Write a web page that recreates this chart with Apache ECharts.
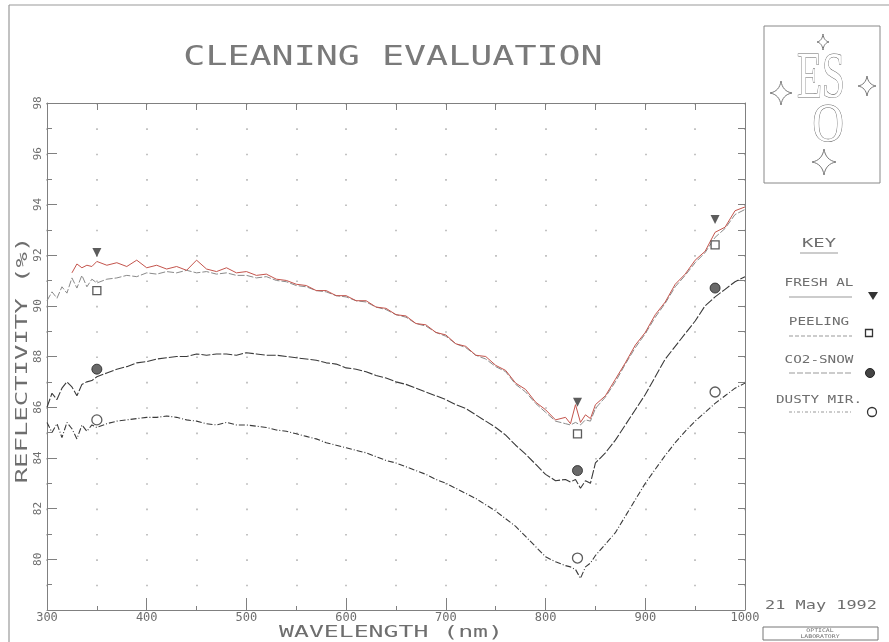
<!DOCTYPE html>
<html><head><meta charset="utf-8">
<script src="https://cdn.jsdelivr.net/npm/echarts/dist/echarts.min.js"></script>
<style>html,body{margin:0;padding:0;background:#fff}#c{width:889px;height:642px}</style>
</head><body><div id="c"></div><script>
// ---- data ----
var wl = [300,305,310,315,320,325,330,335,340,345,350, 360,370,380,390,400,410,420,430,440,450,
  460,470,480,490,500,510,520,530,540,550, 560,570,580,590,600,610,620,630,640,650,
  660,670,680,690,700,710,720,730,740,750, 760,770,780,790,800,810,820,
  825,830,835,840,845,850, 860,870,880,890,900,910,920,930,940,950,960,970,980,990,1000];
var freshAl = [null,null,null,null,null,91.3,91.65,91.5,91.6,91.55,91.75,
  91.6,91.7,91.55,91.8,91.5,91.6,91.45,91.55,91.4,91.8,
  91.45,91.35,91.5,91.3,91.35,91.2,91.25,91.05,91.0,90.85,
  90.8,90.6,90.6,90.4,90.4,90.2,90.2,89.95,89.9,89.65,
  89.6,89.3,89.25,88.95,88.85,88.5,88.4,88.05,88.0,87.65,
  87.45,86.95,86.7,86.2,85.9,85.5,85.6,
  85.35,86.1,85.4,85.7,85.55,86.1,
  86.45,87.1,87.75,88.45,88.95,89.65,90.15,90.85,91.25,91.8,92.15,92.9,93.1,93.75,93.9];
var peeling = [90.2,90.55,90.3,90.75,90.5,91.1,90.7,91.2,90.75,91.05,90.9,
  91.05,91.1,91.2,91.15,91.3,91.25,91.35,91.3,91.4,91.3,
  91.35,91.25,91.3,91.2,91.2,91.1,91.15,91.0,90.95,90.8,
  90.75,90.6,90.55,90.4,90.35,90.2,90.15,89.95,89.85,89.65,
  89.55,89.3,89.2,88.95,88.8,88.5,88.35,88.05,87.9,87.6,
  87.4,86.9,86.6,86.15,85.8,85.45,85.35,
  85.3,85.4,85.3,85.5,85.45,85.95,
  86.4,87.0,87.7,88.35,88.9,89.55,90.1,90.75,91.2,91.7,92.1,92.7,93.05,93.6,93.8];
var co2Snow = [86.0,86.55,86.3,86.75,87.0,86.8,86.45,86.9,87.0,87.05,87.2,
  87.35,87.5,87.6,87.75,87.8,87.9,87.95,88.0,88.0,88.1,
  88.05,88.1,88.1,88.05,88.15,88.1,88.05,88.05,88.0,87.95,
  87.9,87.85,87.75,87.7,87.55,87.5,87.4,87.25,87.15,87.0,
  86.9,86.75,86.6,86.45,86.3,86.1,85.95,85.7,85.45,85.2,
  84.9,84.5,84.15,83.75,83.35,83.1,83.15,
  83.05,83.15,82.8,83.1,83.0,83.8,
  84.2,84.7,85.3,85.9,86.5,87.2,87.9,88.4,88.9,89.4,90.0,90.35,90.65,90.95,91.15];
var dustyMir = [85.4,85.0,85.35,84.8,85.4,85.15,84.75,85.3,85.05,85.3,85.2,
  85.35,85.45,85.5,85.55,85.6,85.6,85.65,85.6,85.5,85.45,
  85.35,85.3,85.4,85.3,85.3,85.25,85.2,85.1,85.05,84.95,
  84.85,84.75,84.6,84.5,84.4,84.3,84.2,84.05,83.9,83.8,
  83.65,83.5,83.35,83.15,83.0,82.8,82.6,82.4,82.15,81.9,
  81.6,81.3,80.9,80.5,80.1,79.9,79.75,
  79.7,79.6,79.25,79.7,79.85,80.15,
  80.6,81.05,81.7,82.35,83.0,83.55,84.1,84.6,85.05,85.45,85.8,86.15,86.45,86.75,86.95];
var markerWl = [350, 832, 970];
var freshMarks = [92.1, 86.2, 93.4];
var peelMarks = [90.6, 84.95, 92.4];
var co2Marks = [87.5, 83.5, 90.7];
var dustyMarks = [85.5, 80.05, 86.6];
var seriesNames = ['FRESH AL', 'PEELING', 'CO2-SNOW', 'DUSTY MIR.'];

// ---- helpers ----
function pairs(xs, ys){ return xs.map(function(x,i){ return [x, ys[i]]; }); }
var FONT = '"DejaVu Sans Mono",monospace';
var TXT = '#6e6e6e';
var AX = '#808080';
function label(text, x, y, size, sx, extra){
  var o = {type:'text', x:x, y:y, scaleX:sx||1, scaleY:1, silent:true,
    style:{text:text, x:0, y:0, fill:TXT, font:size+'px '+FONT, textAlign:'center', textVerticalAlign:'middle', align:'center', verticalAlign:'middle'}};
  if (extra) for (var k in extra) o[k] = extra[k];
  return o;
}
// 4-point star outline (decoration), sampled quadratic curves
function star(cx, cy, rw, rh){
  var k = 0.14, pts = [];
  var corners = [[0,-rh],[rw,0],[0,rh],[-rw,0]];
  for (var c=0;c<4;c++){
    var a = corners[c], b = corners[(c+1)%4];
    var ctl = [(a[0]+b[0])*k, (a[1]+b[1])*k];
    for (var t=0;t<1;t+=0.125){
      var u = 1-t;
      pts.push([cx + u*u*a[0] + 2*u*t*ctl[0] + t*t*b[0], cy + u*u*a[1] + 2*u*t*ctl[1] + t*t*b[1]]);
    }
  }
  return {type:'polygon', silent:true, shape:{points:pts}, style:{fill:'#fff', stroke:'#777', lineWidth:1}};
}
function hline(x1,x2,y,dash,color){
  return {type:'line', silent:true, shape:{x1:x1,y1:y,x2:x2,y2:y}, style:{stroke:color||'#888', lineWidth:1, lineDash:dash||null}};
}

var lineStyles = [
  {color:'#c4544c', width:1, type:'solid'},
  {color:'#8a8a8a', width:1, type:[7,2]},
  {color:'#3a3a3a', width:1.1, type:[9,2]},
  {color:'#3a3a3a', width:1.1, type:[6,2,1,2]}
];
var values = [freshAl, peeling, co2Snow, dustyMir];
var marks = [freshMarks, peelMarks, co2Marks, dustyMarks];
var markSym = [
  {symbol:'triangle', symbolRotate:180, symbolSize:9, itemStyle:{color:'#333'}},
  {symbol:'rect', symbolSize:8, itemStyle:{color:'#fff', borderColor:'#333', borderWidth:1.3}},
  {symbol:'circle', symbolSize:10, itemStyle:{color:'#444', borderColor:'#222', borderWidth:1}},
  {symbol:'circle', symbolSize:10, itemStyle:{color:'#fff', borderColor:'#333', borderWidth:1.3}}
];

var series = [];
[1,3,2,0].forEach(function(i){
  series.push({name:seriesNames[i], type:'line', data:pairs(wl, values[i]), showSymbol:false, symbol:'none',
    connectNulls:false, lineStyle:lineStyles[i], z:3+(i===0?1:0), animation:false});
});
[0,1,2,3].forEach(function(i){
  var s = {name:seriesNames[i]+' marks', type:'scatter', data:pairs(markerWl, marks[i]), z:6, animation:false};
  for (var k in markSym[i]) s[k] = markSym[i][k];
  series.push(s);
});

var legendY = [283, 322, 360, 400];
var legendLineY = [297, 336, 373, 412];
var g = [];
g.push({type:'line', silent:true, shape:{x1:9,y1:5,x2:889,y2:5}, style:{stroke:'#999', lineWidth:1.2}});
g.push({type:'line', silent:true, shape:{x1:9,y1:5,x2:9,y2:642}, style:{stroke:'#999', lineWidth:1.2}});
g.push(label('CLEANING EVALUATION', 393, 58, 26, 1.41, {style:{text:'CLEANING EVALUATION', x:0, y:0, fill:'#7a7a7a', font:'26px '+FONT, textAlign:'center', textVerticalAlign:'middle', align:'center', verticalAlign:'middle'}}));
g.push(label('WAVELENGTH (nm)', 391, 633, 16, 1.55));
g.push(label('REFLECTIVITY (%)', 23, 360, 16, 1.6, {rotation:Math.PI/2}));
g.push({type:'rect', silent:true, shape:{x:764,y:26,width:116,height:157}, style:{fill:'none', stroke:'#888', lineWidth:1}});
g.push({type:'text', silent:true, x:821, y:80, scaleX:0.62, scaleY:1, style:{text:'ES', x:0, y:0, fill:'#fff', stroke:'#666', lineWidth:1.1, font:'66px "Liberation Serif","DejaVu Serif",serif', textAlign:'center', textVerticalAlign:'middle', align:'center', verticalAlign:'middle'}});
g.push({type:'text', silent:true, x:828, y:127, scaleX:0.8, scaleY:1, style:{text:'O', x:0, y:0, fill:'#fff', stroke:'#666', lineWidth:1.1, font:'54px "Liberation Serif","DejaVu Serif",serif', textAlign:'center', textVerticalAlign:'middle', align:'center', verticalAlign:'middle'}});
g.push(star(823, 42, 6, 8));
g.push(star(781, 93, 11, 12));
g.push(star(867, 86, 9, 10));
g.push(star(824, 162, 12, 13));
g.push(label('KEY', 819, 244, 13, 1.45));
g.push(hline(800, 838, 253, null, '#999'));
var legDash = [null, [4,2], [6,2], [3,2,1,2]];
for (var i=0;i<4;i++){
  g.push(label(seriesNames[i], 819, legendY[i], 11, 1.3));
  g.push(hline(789, 852, legendLineY[i], legDash[i], '#999'));
}
g.push({type:'polygon', silent:true, shape:{points:[[868,292],[878,292],[873,300]]}, style:{fill:'#333'}});
g.push({type:'rect', silent:true, shape:{x:865.5,y:329.5,width:7,height:7}, style:{fill:'#fff', stroke:'#333', lineWidth:1.3}});
g.push({type:'circle', silent:true, shape:{cx:870,cy:373,r:4.5}, style:{fill:'#444', stroke:'#222', lineWidth:1}});
g.push({type:'circle', silent:true, shape:{cx:872,cy:412,r:4.5}, style:{fill:'#fff', stroke:'#333', lineWidth:1.3}});
g.push(label('21 May 1992', 821, 606, 13, 1.3));
g.push({type:'rect', silent:true, shape:{x:763,y:627,width:115,height:13}, style:{fill:'none', stroke:'#777', lineWidth:1}});
g.push(label('OPTICAL', 820, 631, 5, 1.3));
g.push(label('LABORATORY', 820, 636.5, 5, 1.3));

var dots = {show:true, lineStyle:{color:'#b5b5b5', width:1.6, type:[1.6, 23.75]}};
var option = {
  backgroundColor:'#fff',
  animation:false,
  grid:{left:47, right:144, top:103, bottom:32, containLabel:false},
  xAxis:[
    {type:'value', min:300, max:1000, interval:100, position:'bottom',
     axisLine:{show:true, onZero:false, lineStyle:{color:AX}},
     axisTick:{show:true, inside:true, length:12, lineStyle:{color:AX}},
     minorTick:{show:true, splitNumber:2, length:4, lineStyle:{color:AX}},
     axisLabel:{margin:2, fontSize:12, color:TXT, fontFamily:FONT, showMinLabel:true, showMaxLabel:true,
       formatter:function(v){ return String(v); }},
     splitLine:dots, minorSplitLine:dots},
    {type:'value', min:300, max:1000, interval:50, position:'top',
     axisLine:{show:true, onZero:false, lineStyle:{color:AX}},
     axisTick:{show:true, inside:true, length:7, lineStyle:{color:AX}},
     axisLabel:{show:false}, splitLine:{show:false}}
  ],
  yAxis:[
    {type:'value', min:78, max:98, interval:2, position:'left',
     axisLine:{show:true, onZero:false, lineStyle:{color:AX}},
     axisTick:{show:true, inside:true, length:10, lineStyle:{color:AX}},
     minorTick:{show:true, splitNumber:2, length:5, lineStyle:{color:AX}},
     axisLabel:{rotate:90, margin:3, fontSize:11, color:TXT, fontFamily:FONT,
       formatter:function(v){ return v===78 ? '' : String(v); }},
     splitLine:{show:false}},
    {type:'value', min:78, max:98, interval:1, position:'right',
     axisLine:{show:true, onZero:false, lineStyle:{color:AX}},
     axisTick:{show:true, inside:true, length:7, lineStyle:{color:AX}},
     axisLabel:{show:false}, splitLine:{show:false}}
  ],
  graphic:g,
  series:series
};
var chart = echarts.init(document.getElementById('c'));
chart.setOption(option);
</script></body></html>
